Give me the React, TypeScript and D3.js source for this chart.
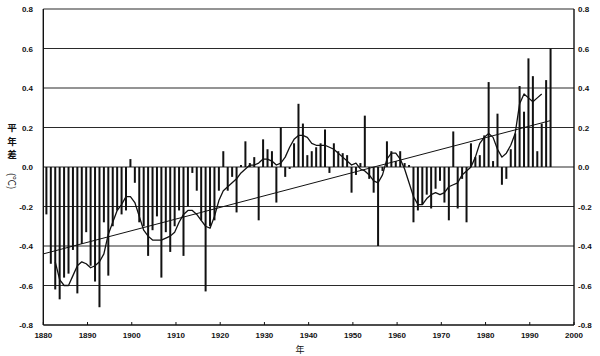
import React from "react";
import * as d3 from "d3";

// Annual anomaly (°C), 1880..1994
const barStartYear = 1880;
const anomalies = [
  -0.24, -0.49, -0.62, -0.67, -0.56, -0.54, -0.42, -0.64, -0.39, -0.33,
  -0.5, -0.58, -0.71, -0.28, -0.55, -0.3, -0.22, -0.24, -0.22, 0.04,
  -0.08, -0.28, -0.3, -0.45, -0.32, -0.25, -0.56, -0.33, -0.43, -0.3,
  -0.22, -0.45, -0.2, -0.03, -0.12, -0.27, -0.63, -0.3, -0.27, -0.12,
  0.08, -0.12, -0.05, -0.23, 0.01, 0.13, 0.02, 0.05, -0.27, 0.14,
  0.09, 0.08, -0.18, 0.2, -0.05, -0.01, 0.12, 0.32, 0.22, 0.06,
  0.08, 0.1, 0.12, 0.19, -0.03, 0.12, 0.08, 0.07, 0.06, -0.13,
  -0.04, 0.02, 0.26, -0.06, -0.13, -0.4, -0.02, 0.13, 0.08, 0.03,
  0.08, 0.02, 0.01, -0.28, -0.22, -0.19, -0.14, -0.21, -0.11, -0.07,
  -0.18, -0.27, 0.18, -0.21, -0.06, -0.28, 0.12, 0.05, 0.06, 0.16,
  0.43, 0.03, 0.27, -0.09, -0.06, 0.09, 0.17, 0.41, 0.28, 0.55,
  0.46, 0.08, 0.22, 0.44, 0.6,
];

// Smoothed curve, 1882..1992
const smoothStartYear = 1882;
const smoothed = [
  -0.48, -0.57, -0.6, -0.6, -0.55, -0.5, -0.48, -0.49, -0.51, -0.5,
  -0.48, -0.44, -0.34, -0.28, -0.22, -0.19, -0.15, -0.15, -0.18, -0.25,
  -0.32, -0.35, -0.37, -0.37, -0.37, -0.36, -0.35, -0.33, -0.28, -0.24,
  -0.22, -0.22, -0.24, -0.27, -0.3, -0.31, -0.25, -0.17, -0.12, -0.1,
  -0.08, -0.06, -0.03, -0.01, 0.01, 0.01, 0.02, 0.04, 0.04, 0.03,
  0.01, 0.02, 0.05, 0.1, 0.14, 0.16, 0.16, 0.15, 0.12, 0.11,
  0.11, 0.11, 0.1, 0.09, 0.07, 0.05, 0.03, 0.01, 0.02, -0.01,
  -0.02, -0.04, -0.07, -0.08, -0.04, 0.04, 0.07, 0.07, 0.04, -0.01,
  -0.08, -0.15, -0.19, -0.19, -0.16, -0.14, -0.13, -0.14, -0.13, -0.1,
  -0.09, -0.08, -0.04, -0.02, 0.0, 0.05, 0.12, 0.15, 0.17, 0.15,
  0.09, 0.05, 0.07, 0.11, 0.17, 0.32, 0.37, 0.35, 0.33, 0.35,
  0.37,
];

// Linear trend end points
const trendYears = [1880, 1994.7];
const trendValues = [-0.44, 0.235];

const xTicks = [1880, 1890, 1900, 1910, 1920, 1930, 1940, 1950, 1960, 1970, 1980, 1990, 2000];
const yTicks = [-0.8, -0.6, -0.4, -0.2, 0, 0.2, 0.4, 0.6, 0.8];
const yLabelChars = ["平", "年", "差"];
const yLabelUnit = "(℃)";
const xLabel = "年";

const W = 600;
const H = 356;
const left = 43.3;
const right = 574;
const top = 9;
const bottom = 325;
const barOffset = 0.7;

export default function App() {
  const x = d3.scaleLinear().domain([1880, 2000]).range([left, right]);
  const y = d3.scaleLinear().domain([-0.8, 0.8]).range([bottom, top]);
  const fmt = (v: number) => d3.format(".1f")(v).replace("−", "-");

  const smoothLine = d3
    .line<number>()
    .x((_, i) => x(smoothStartYear + i + barOffset))
    .y((d) => y(d))
    .curve(d3.curveLinear);

  const trendLine = d3
    .line<number>()
    .x((_, i) => x(trendYears[i]))
    .y((d) => y(d));

  const labelFont = "'Liberation Sans', Arial, sans-serif";
  const cjkFont = "'Noto Sans CJK SC', 'Noto Sans CJK JP', sans-serif";

  return (
    <svg
      width={W}
      height={H}
      viewBox={`0 0 ${W} ${H}`}
      style={{ position: "absolute", left: 0, top: 0, background: "#fff" }}
    >
      {/* grid lines */}
      {yTicks
        .filter((t) => t > -0.8)
        .map((t) => (
          <line
            key={"g" + t}
            x1={left}
            x2={right}
            y1={y(t)}
            y2={y(t)}
            stroke="#2a2a2a"
            strokeWidth={1.1}
          />
        ))}

      {/* bars */}
      {anomalies.map((v, i) => {
        const yr = barStartYear + i;
        const y0 = y(0);
        const y1 = y(v);
        return (
          <rect
            key={"b" + yr}
            x={x(yr + barOffset) - 1}
            y={Math.min(y0, y1)}
            width={2}
            height={Math.max(0.5, Math.abs(y1 - y0))}
            fill="#111"
          />
        );
      })}

      {/* trend */}
      <path d={trendLine(trendValues) || ""} fill="none" stroke="#111" strokeWidth={1} />

      {/* smoothed */}
      <path
        d={smoothLine(smoothed) || ""}
        fill="none"
        stroke="#111"
        strokeWidth={1.3}
        strokeLinejoin="round"
      />

      {/* frame */}
      <line x1={left} x2={left} y1={top} y2={bottom} stroke="#111" strokeWidth={1.4} />
      <line x1={right} x2={right} y1={top} y2={bottom} stroke="#111" strokeWidth={1.4} />
      <line x1={left} x2={right} y1={bottom} y2={bottom} stroke="#111" strokeWidth={1.4} />

      {/* x ticks */}
      {xTicks.map((t) => (
        <g key={"x" + t}>
          <line x1={x(t)} x2={x(t)} y1={bottom} y2={bottom - 3} stroke="#111" strokeWidth={1} />
          <text
            x={x(t)}
            y={bottom + 13}
            textAnchor="middle"
            fontFamily={labelFont}
            fontWeight="bold"
            fontSize={8}
            fill="#111"
          >
            {t}
          </text>
        </g>
      ))}

      {/* y tick labels left and right */}
      {yTicks.map((t) => (
        <g key={"y" + t}>
          <text
            x={33}
            y={y(t) + 3}
            textAnchor="end"
            fontFamily={labelFont}
            fontWeight="bold"
            fontSize={8}
            fill="#111"
          >
            {fmt(t)}
          </text>
          <text
            x={578}
            y={y(t) + 3}
            textAnchor="start"
            fontFamily={labelFont}
            fontWeight="bold"
            fontSize={8}
            fill="#111"
          >
            {fmt(t)}
          </text>
        </g>
      ))}

      {/* y axis label */}
      {yLabelChars.map((c, i) => (
        <text
          key={"yl" + i}
          x={12}
          y={131 + i * 13.5}
          textAnchor="middle"
          fontFamily={cjkFont}
          fontWeight="bold"
          fontSize={9.5}
          fill="#111"
        >
          {c}
        </text>
      ))}
      <text
        transform={`translate(12,${181}) rotate(90)`}
        textAnchor="middle"
        dominantBaseline="central"
        fontFamily={cjkFont}
        fontSize={10}
        fill="#111"
      >
        {yLabelUnit}
      </text>

      {/* x axis label */}
      <text
        x={300}
        y={353}
        textAnchor="middle"
        fontFamily={cjkFont}
        fontSize={9}
        fill="#111"
      >
        {xLabel}
      </text>
    </svg>
  );
}
